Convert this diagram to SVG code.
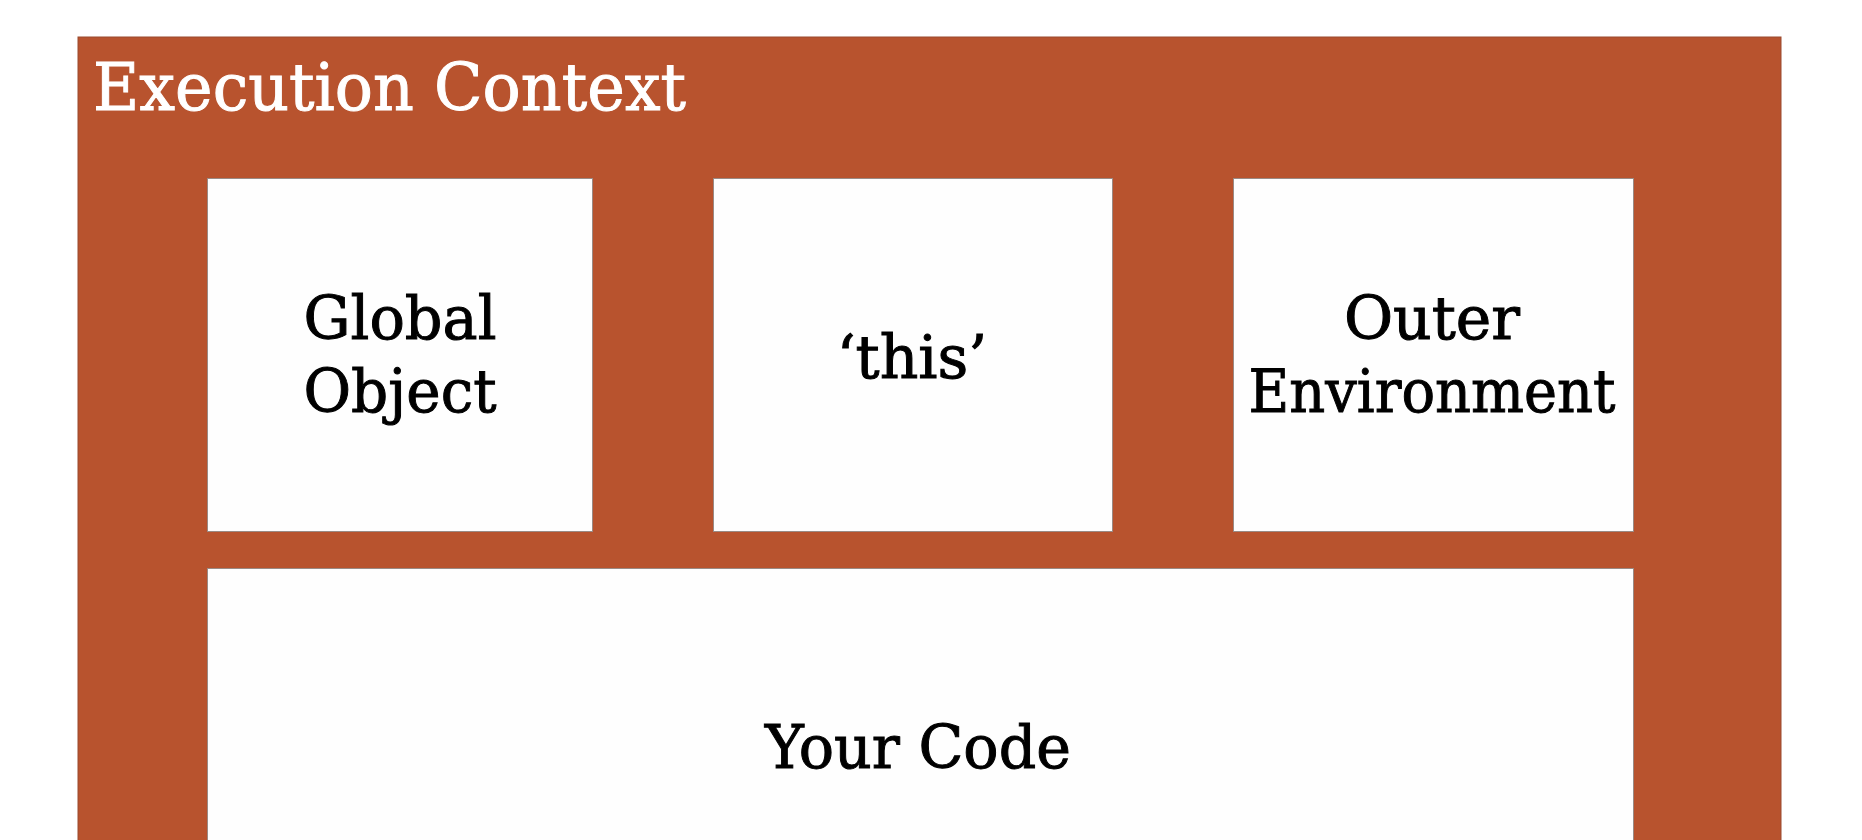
<svg xmlns="http://www.w3.org/2000/svg" width="1862" height="840" viewBox="0 0 1862 840">
<style>
.frame{fill:#B8532E;stroke:#9a4a2e;stroke-width:1}
.box{fill:#FEFEFE;stroke:#9a8a84;stroke-width:1}
.t{font-family:"DejaVu Serif","Liberation Serif",serif;font-size:60px;fill:#000;stroke:#000;stroke-width:1;text-anchor:middle}
.title{font-family:"DejaVu Serif","Liberation Serif",serif;font-size:66px;fill:#fff;stroke:#fff;stroke-width:1}
</style>
<rect width="1862" height="840" fill="#FFFFFF"/>
<g id="execution-context">
<rect class="frame" x="78" y="37" width="1703" height="810"/>
<text class="title" x="93" y="110" textLength="593" lengthAdjust="spacingAndGlyphs">Execution Context</text>
</g>
<g id="global-object">
<rect class="box" x="207.5" y="178.5" width="385" height="353"/>
<text class="t" x="400" y="339" textLength="193" lengthAdjust="spacingAndGlyphs">Global</text>
<text class="t" x="400" y="412" textLength="193" lengthAdjust="spacingAndGlyphs">Object</text>
</g>
<g id="this">
<rect class="box" x="713.5" y="178.5" width="399" height="353"/>
<text class="t" x="912" y="378">‘this’</text>
</g>
<g id="outer-environment">
<rect class="box" x="1233.5" y="178.5" width="400" height="353"/>
<text class="t" x="1432" y="339">Outer</text>
<text class="t" x="1432" y="412" textLength="367" lengthAdjust="spacingAndGlyphs">Environment</text>
</g>
<g id="your-code">
<rect class="box" x="207.5" y="568.5" width="1426" height="290"/>
<text class="t" x="918" y="768" textLength="306" lengthAdjust="spacingAndGlyphs">Your Code</text>
</g>
<g id="connectors"></g>
</svg>
